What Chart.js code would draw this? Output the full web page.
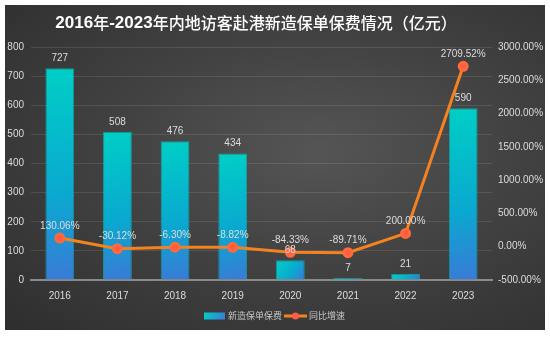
<!DOCTYPE html>
<html>
<head>
<meta charset="utf-8">
<script src="https://cdn.jsdelivr.net/npm/chart.js@4.4.0/dist/chart.umd.min.js"></script>
<style>
    html, body { margin: 0; padding: 0; background: #fff; }
    #panel {
        position: absolute; left: 5px; top: 5px; width: 540px; height: 325px;
        background: radial-gradient(ellipse at 58% 45%, #555 0%, #424242 45%, #2e2e2e 100%);
    }
</style>
</head>
<body>
<div id="panel"><canvas id="chart" width="540" height="325"></canvas></div>
<script>
const years = ['2016', '2017', '2018', '2019', '2020', '2021', '2022', '2023'];
const premiums = [727, 508, 476, 434, 68, 7, 21, 590];
const growth = [130.06, -30.12, -6.30, -8.82, -84.33, -89.71, 200.00, 2709.52];
const titleText = '2016年-2023年内地访客赴港新造保单保费情况（亿元）';

const FONT = "'Liberation Sans', Arial, sans-serif";
const CJK = "'Noto Sans CJK SC', sans-serif";

function barGradient(ctx) {
    const chart = ctx.chart;
    if (!chart.chartArea || ctx.raw === undefined) return '#00c8c8';
    const top = chart.scales.y.getPixelForValue(ctx.raw);
    const bot = chart.scales.y.getPixelForValue(0);
    const x = chart.scales.x.getPixelForValue(ctx.dataIndex);
    const g = chart.ctx.createLinearGradient(x - 14, top, x + 14, bot);
    g.addColorStop(0, '#00cfc6');
    g.addColorStop(0.6, '#0aa8d0');
    g.addColorStop(1, '#3a7ad6');
    return g;
}

// title: latin parts bold, chinese parts regular
const topTitle = {
    id: 'topTitle',
    afterDraw(chart) {
        const c = chart.ctx;
        const runs = titleText.match(/[0-9\-]+|[^0-9\-]+/g);
        const fontFor = r => /[0-9\-]/.test(r[0])
            ? "bold 17px 'Liberation Sans', sans-serif"
            : "500 16px 'Noto Sans CJK SC', sans-serif";
        c.save();
        c.fillStyle = '#ffffff';
        c.textBaseline = 'middle';
        let total = 0;
        runs.forEach(r => { c.font = fontFor(r); total += c.measureText(r).width; });
        let x = 251 - total / 2;
        runs.forEach(r => {
            c.font = fontFor(r);
            c.fillText(r, x, 18);
            x += c.measureText(r).width;
        });
        c.restore();
    }
};

// value labels above bars and points
const valueLabels = {
    id: 'valueLabels',
    afterDatasetsDraw(chart) {
        const c = chart.ctx;
        c.save();
        c.fillStyle = '#dcdcdc';
        c.font = '10px ' + FONT;
        c.textAlign = 'center';
        c.textBaseline = 'bottom';
        chart.getDatasetMeta(0).data.forEach((el, i) => {
            c.fillText(premiums[i], el.x, el.y - 5);
        });
        chart.getDatasetMeta(1).data.forEach((el, i) => {
            c.fillText(growth[i].toFixed(2) + '%', el.x, el.y - 7);
        });
        c.restore();
    }
};

// legend drawn under the axis
const bottomLegend = {
    id: 'bottomLegend',
    afterDraw(chart) {
        const c = chart.ctx;
        const y = 311;
        c.save();
        const g = c.createLinearGradient(199, y - 4, 220, y + 4);
        g.addColorStop(0, '#00cfc6');
        g.addColorStop(1, '#3a7ad6');
        c.fillStyle = g;
        c.fillRect(199, y - 3.5, 21, 7);
        c.font = '9px ' + CJK;
        c.fillStyle = '#c8c8c8';
        c.textBaseline = 'middle';
        const label1 = '新造保单保费';
        c.fillText(label1, 223, y);
        const lx = 279;
        c.strokeStyle = '#f5821f';
        c.lineWidth = 3;
        c.beginPath();
        c.moveTo(lx, y);
        c.lineTo(lx + 23, y);
        c.stroke();
        c.fillStyle = '#ff5a4a';
        c.beginPath();
        c.arc(lx + 11.5, y, 3.5, 0, Math.PI * 2);
        c.fill();
        c.fillStyle = '#c8c8c8';
        c.fillText('同比增速', lx + 25, y);
        c.restore();
    }
};

new Chart(document.getElementById('chart'), {
    data: {
        labels: years,
        datasets: [
            {
                type: 'bar',
                label: '新造保单保费',
                data: premiums,
                backgroundColor: barGradient,
                borderColor: 'rgba(0,190,190,0.7)',
                borderWidth: 1,
                barPercentage: 0.5,
                categoryPercentage: 1,
                yAxisID: 'y',
                order: 2
            },
            {
                type: 'line',
                label: '同比增速',
                data: growth,
                borderColor: '#f5821f',
                borderWidth: 3,
                pointBackgroundColor: '#ff5a4a',
                pointBorderColor: '#ff6a3a',
                pointRadius: 4,
                tension: 0,
                yAxisID: 'y1',
                order: 1
            }
        ]
    },
    options: {
        responsive: false,
        animation: false,
        layout: { padding: { left: 0, right: 0, top: 42, bottom: 18 } },
        plugins: {
            legend: { display: false },
            tooltip: { enabled: false },
            title: { display: false }
        },
        scales: {
            x: {
                grid: { display: false, drawTicks: false },
                border: { display: true, color: '#8a8a8a', width: 2 },
                ticks: { color: '#dcdcdc', font: { family: FONT, size: 10 }, padding: 10 }
            },
            y: {
                position: 'left',
                min: 0,
                max: 800,
                afterFit: s => { s.width = 26; },
                ticks: { stepSize: 100, color: '#dcdcdc', font: { family: FONT, size: 10 }, padding: 7 },
                grid: { color: 'rgba(255,255,255,0.1)', drawTicks: false },
                border: { display: false }
            },
            y1: {
                position: 'right',
                min: -500,
                max: 3000,
                afterFit: s => { s.width = 53; },
                ticks: {
                    stepSize: 500,
                    color: '#dcdcdc',
                    font: { family: FONT, size: 10 },
                    padding: 6,
                    callback: v => v.toFixed(2) + '%'
                },
                grid: { display: false, drawTicks: false },
                border: { display: false }
            }
        }
    },
    plugins: [topTitle, valueLabels, bottomLegend]
});
</script>
</body>
</html>
